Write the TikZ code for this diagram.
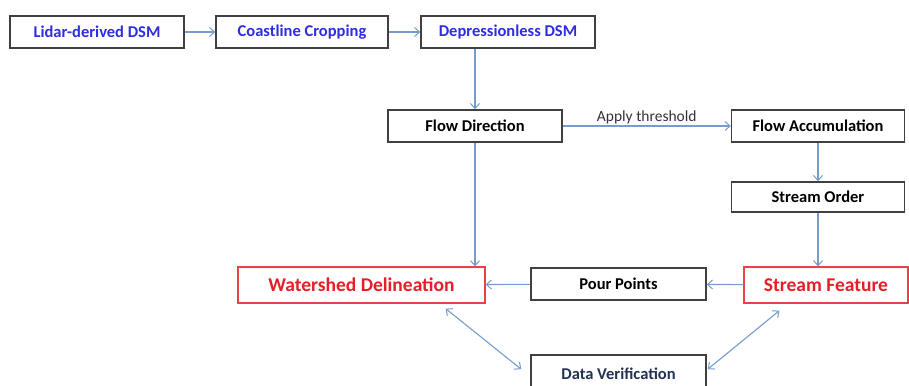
\documentclass[tikz,border=0pt]{standalone}
\usepackage{fontspec}
\setmainfont{Carlito}
\usetikzlibrary{arrows.meta,calc}
\definecolor{arr}{RGB}{120,155,205}
\definecolor{bluetxt}{RGB}{45,45,225}
\definecolor{redtxt}{RGB}{230,30,40}
\definecolor{navy}{RGB}{35,50,85}
\tikzset{
  box/.style={draw=black!75, line width=1.6pt, fill=white, inner sep=0pt, font=\bfseries\fontsize{16.5}{18}\selectfont},
  redbox/.style={draw=redtxt!85, line width=1.3pt, fill=white, inner sep=0pt, text=redtxt, font=\bfseries\fontsize{19.5}{21}\selectfont},
  conn/.style={draw=arr, line width=1.1pt, -{Straight Barb[length=5pt,width=9pt,line width=1pt]}},
  dconn/.style={draw=arr, line width=1.1pt, {Straight Barb[length=5pt,width=9pt,line width=1pt]}-{Straight Barb[length=5pt,width=9pt,line width=1pt]}},
}
\begin{document}
\begin{tikzpicture}[x=1pt,y=-1pt]
\useasboundingbox (0,0) rectangle (909,385);
\clip (0,0) rectangle (909,385);
% top row
\node[box, text=bluetxt, minimum width=174pt, minimum height=32pt] (lidar) at (97,32) {Lidar-derived DSM};
\node[box, text=bluetxt, minimum width=172pt, minimum height=32pt] (coast) at (302,32) {Coastline Cropping};
\node[box, text=bluetxt, minimum width=174pt, minimum height=32pt] (depr) at (508,32) {Depressionless DSM};
% middle
\node[box, minimum width=174pt, minimum height=32pt] (flowdir) at (475,126) {Flow Direction};
\node[box, minimum width=173pt, minimum height=32pt] (flowacc) at (818,126) {Flow Accumulation};
\node[box, minimum width=173pt, minimum height=30pt] (order) at (818,197) {Stream Order};
% lower
\node[redbox, minimum width=247pt, minimum height=36pt] (ws) at (361.5,285) {Watershed Delineation};
\node[box, minimum width=175pt, minimum height=32pt] (pour) at (618.5,284) {Pour Points};
\node[redbox, minimum width=164pt, minimum height=36pt] (sf) at (826,285) {Stream Feature};
\node[box, text=navy, minimum width=175pt, minimum height=38pt] (dv) at (618.5,374) {Data Verification};
% connectors
\draw[conn] (lidar) -- (coast);
\draw[conn] (coast) -- (depr);
\draw[conn] (depr.south -| flowdir.north) -- (flowdir.north);
\draw[conn] (flowdir) -- node[above=-2pt, text=black!80, font=\fontsize{15.5}{17}\selectfont] {Apply threshold} (flowacc);
\draw[conn] (flowacc) -- (order);
\draw[conn] (order.south) -- (order.south |- sf.north);
\draw[conn] (flowdir.south) -- (flowdir.south |- ws.north);
\draw[conn] (sf) -- (pour);
\draw[conn] (pour) -- (ws);
\draw[dconn] ($(ws.south east)+(-40,5)$) -- ($(dv.north west)+(-9,15)$);
\draw[dconn] ($(sf.south west)+(36,7)$) -- ($(dv.north east)+(1,15)$);
\end{tikzpicture}
\end{document}
